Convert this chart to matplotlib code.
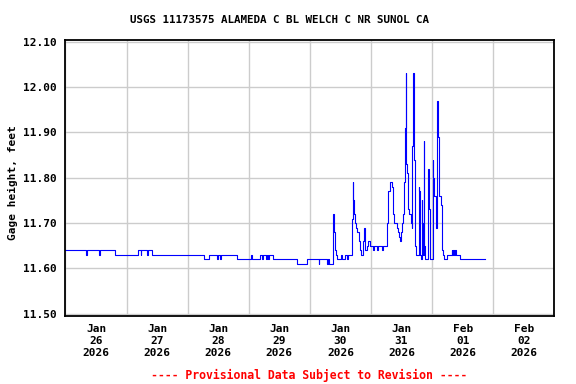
import pandas as pd
import matplotlib
matplotlib.use("Agg")
import matplotlib.pyplot as plt
import matplotlib.dates as mdates
from matplotlib.ticker import NullFormatter, FormatStrFormatter

# ---------------------------------------------------------------------
# Data: gage height (ft), hours since 2026-01-26 00:00, step changes
# ---------------------------------------------------------------------
hours = [
    0, 8.1, 8.6, 13.0, 13.5, 19.5, 28.6, 29.5, 29.8, 32.0, 32.3, 34.0,
    54.5, 56.2, 59.7, 60.0, 60.6, 60.9, 67.3, 72.9, 73.2, 76.5, 77.1, 77.4,
    78.8, 79.1, 79.7, 80.0, 81.7, 91.1, 94.8, 99.4, 99.7, 102.7, 103.2, 103.5,
    104.9, 105.1, 105.4, 105.6, 105.8, 106.0, 106.3, 106.7, 108.2, 108.5,
    109.8, 110.6, 111.0, 111.4, 112.5, 112.8, 113.1, 113.4, 113.8, 114.2,
    114.7, 115.1, 115.5, 115.9, 116.7, 117.0, 117.3, 117.6, 117.8, 118.5,
    118.9, 119.7, 120.9, 121.3, 122.5, 122.8, 124.3, 124.8, 126.2, 126.6,
    127.5, 128.2, 128.6, 128.8, 129.2, 130.2, 130.6, 131.1, 131.5, 131.9,
    132.1, 132.5, 133.0, 133.4, 133.7, 133.9, 134.3, 134.7, 135.1, 135.7,
    136.1, 136.3, 136.6, 136.8, 137.1, 137.4, 137.7, 138.8, 139.0, 139.3,
    139.6, 140.0, 140.2, 140.4, 140.8, 141.0, 141.3, 142.2, 142.6, 143.0,
    144.3, 144.5, 144.8, 145.5, 145.9, 146.1, 146.4, 146.8, 147.4, 147.8,
    148.2, 148.5, 150.0, 151.8, 152.0, 152.3, 152.6, 152.9, 153.2, 155.0,
    164.6,
]
gage_ft = [
    11.64, 11.63, 11.64, 11.63, 11.64, 11.63, 11.64, 11.63, 11.64, 11.63, 11.64, 11.63,
    11.62, 11.63, 11.62, 11.63, 11.62, 11.63, 11.62, 11.63, 11.62, 11.63, 11.62, 11.63,
    11.62, 11.63, 11.62, 11.63, 11.62, 11.61, 11.62, 11.61, 11.62, 11.61, 11.62, 11.61,
    11.70, 11.72, 11.70, 11.68, 11.66, 11.64, 11.63, 11.62, 11.63, 11.62,
    11.63, 11.62, 11.63, 11.63, 11.71, 11.79, 11.75, 11.72, 11.70, 11.69,
    11.68, 11.66, 11.64, 11.63, 11.65, 11.66, 11.69, 11.66, 11.64, 11.65,
    11.66, 11.65, 11.64, 11.65, 11.64, 11.65, 11.64, 11.65, 11.70, 11.77,
    11.79, 11.78, 11.75, 11.72, 11.70, 11.69, 11.68, 11.67, 11.66, 11.68,
    11.70, 11.72, 11.79, 11.91, 12.03, 11.83, 11.81, 11.73, 11.72, 11.70,
    11.69, 11.87, 12.03, 11.84, 11.69, 11.65, 11.63, 11.78, 11.77, 11.63,
    11.62, 11.75, 11.70, 11.63, 11.88, 11.65, 11.62, 11.82, 11.73, 11.62,
    11.84, 11.80, 11.76, 11.69, 11.83, 11.97, 11.89, 11.76, 11.74, 11.64,
    11.63, 11.62, 11.63, 11.64, 11.63, 11.64, 11.63, 11.64, 11.63, 11.62,
    11.62,
]
yticks = [11.50, 11.60, 11.70, 11.80, 11.90, 12.00, 12.10]

start = pd.Timestamp("2026-01-26")
times = start + pd.to_timedelta(hours, unit="h")

# ---------------------------------------------------------------------
# Plot
# ---------------------------------------------------------------------
plt.rcParams["font.family"] = "DejaVu Sans Mono"
plt.rcParams["font.weight"] = "bold"

fig = plt.figure(figsize=(5.76, 3.84), dpi=100)
ax = fig.add_axes([0.1137, 0.177, 0.8486, 0.719])

ax.plot(times, gage_ft, color="#0000ff", linewidth=0.8, drawstyle="steps-post")

ax.set_xlim(start, start + pd.Timedelta(days=8))
ax.set_ylim(11.495, 12.104)
ax.set_yticks(yticks)
ax.yaxis.set_major_formatter(FormatStrFormatter("%.2f"))

ax.xaxis.set_major_locator(mdates.DayLocator())
ax.xaxis.set_major_formatter(NullFormatter())
ax.xaxis.set_minor_locator(mdates.HourLocator(byhour=12))
ax.xaxis.set_minor_formatter(mdates.DateFormatter("%b\n%d\n%Y"))

ax.tick_params(which="both", length=0, labelsize=8)
ax.tick_params(axis="y", pad=6)
ax.tick_params(axis="x", which="minor", pad=6)
for lab in ax.get_xticklabels(minor=True) + ax.get_yticklabels():
    lab.set_fontweight("bold")

ax.grid(True, which="major", color="#cccccc", linewidth=1.0)
ax.set_axisbelow(True)
for s in ax.spines.values():
    s.set_linewidth(1.3)
    s.set_color("black")

fig.text(280 / 576, 1 - 20 / 384, "USGS 11173575 ALAMEDA C BL WELCH C NR SUNOL CA",
         ha="center", va="center", fontsize=7.8, fontweight="bold")
fig.text(13 / 576, 1 - 183 / 384, "Gage height, feet", rotation=90,
         ha="center", va="center", fontsize=8, fontweight="bold")
fig.text(309 / 576, 1 - 375 / 384, "---- Provisional Data Subject to Revision ----",
         ha="center", va="center", fontsize=8.3, fontweight="bold", color="red")

fig.savefig("out.png", dpi=100)
